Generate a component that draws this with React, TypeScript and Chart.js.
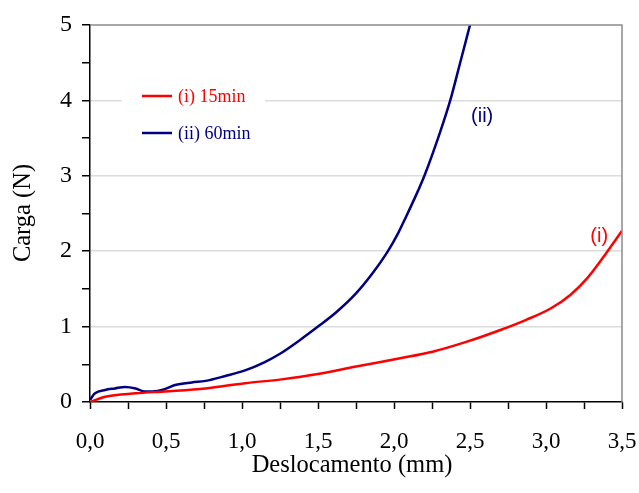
import React, { useEffect, useRef } from "react";
import { Chart, registerables } from "chart.js";

Chart.register(...registerables);

// Deslocamento (mm) and Carga (N) for each specimen
const dispI = [0, 0.1, 0.3, 0.49, 0.76, 1.02, 1.26, 1.5, 1.75, 2.04, 2.26, 2.48, 2.7, 2.87, 3.03, 3.16, 3.27, 3.38, 3.44, 3.5];
const loadI = [0, 0.07, 0.115, 0.14, 0.18, 0.25, 0.3, 0.37, 0.47, 0.58, 0.67, 0.8, 0.955, 1.09, 1.24, 1.42, 1.64, 1.93, 2.1, 2.27];

const dispII = [0, 0.033, 0.1, 0.164, 0.23, 0.3, 0.36, 0.41, 0.49, 0.56, 0.67, 0.76, 0.89, 1.02, 1.15, 1.25, 1.38, 1.5, 1.62, 1.75, 1.86, 1.96, 2.03, 2.08, 2.16, 2.2, 2.3, 2.37, 2.434, 2.5];
const loadII = [0.03, 0.115, 0.16, 0.18, 0.2, 0.18, 0.14, 0.14, 0.17, 0.225, 0.26, 0.28, 0.345, 0.42, 0.53, 0.64, 0.82, 1.0, 1.19, 1.44, 1.71, 2.0, 2.25, 2.46, 2.81, 3.0, 3.56, 4.0, 4.49, 5.0];

const seriesLabels = ["(i) 15min", "(ii) 60min"];
const seriesTags = ["(i)", "(ii)"];
const seriesColors = ["#ff0000", "#000080"];

const xTitle = "Deslocamento (mm)";
const yTitle = "Carga (N)";

const SERIF = "'Liberation Serif', 'Times New Roman', serif";
const SANS = "'Liberation Sans', Arial, sans-serif";

const toPoints = (xs: number[], ys: number[]) => xs.map((x, i) => ({ x, y: ys[i] }));

// Axis titles, in-plot legend and curve tags
const decorations = {
  id: "decorations",
  beforeDatasetsDraw(chart: any) {
    const { ctx } = chart;
    ctx.save();
    // legend backdrop hides the gridline behind it
    ctx.fillStyle = "#ffffff";
    ctx.fillRect(122, 78, 143, 72);
    ctx.restore();
  },
  afterDatasetsDraw(chart: any) {
    const { ctx, chartArea } = chart;
    const xs = chart.scales.x;
    const ys = chart.scales.y;
    ctx.save();

    // legend
    const rows = [96, 133];
    ctx.font = `18px ${SERIF}`;
    ctx.textBaseline = "middle";
    ctx.textAlign = "left";
    rows.forEach((y, i) => {
      ctx.strokeStyle = seriesColors[i];
      ctx.lineWidth = 2.5;
      ctx.beginPath();
      ctx.moveTo(142, y);
      ctx.lineTo(172, y);
      ctx.stroke();
      ctx.fillStyle = seriesColors[i];
      ctx.fillText(seriesLabels[i], 178, y + 1);
    });

    // curve tags
    ctx.font = `20px ${SANS}`;
    ctx.textAlign = "center";
    ctx.fillStyle = seriesColors[1];
    ctx.fillText(seriesTags[1], xs.getPixelForValue(2.58), ys.getPixelForValue(3.79));
    ctx.fillStyle = seriesColors[0];
    ctx.fillText(seriesTags[0], xs.getPixelForValue(3.35), ys.getPixelForValue(2.19));

    // gray frame on top and right
    ctx.strokeStyle = "#8c8c8c";
    ctx.lineWidth = 1.5;
    ctx.beginPath();
    ctx.moveTo(chartArea.left, chartArea.top);
    ctx.lineTo(chartArea.right, chartArea.top);
    ctx.lineTo(chartArea.right, chartArea.bottom);
    ctx.stroke();

    // axis titles
    ctx.fillStyle = "#000";
    ctx.font = `24.5px ${SERIF}`;
    ctx.textAlign = "center";
    ctx.textBaseline = "middle";
    ctx.fillText(xTitle, 352, 466);
    ctx.translate(24, 213);
    ctx.rotate(-Math.PI / 2);
    ctx.fillText(yTitle, 0, 0);
    ctx.restore();
  },
};

export default function App() {
  const canvasRef = useRef<HTMLCanvasElement | null>(null);

  useEffect(() => {
    const canvas = canvasRef.current;
    if (!canvas) return;
    const chart = new Chart(canvas, {
      type: "line",
      data: {
        datasets: [
          {
            label: seriesLabels[0],
            data: toPoints(dispI, loadI),
            borderColor: seriesColors[0],
            borderWidth: 2.5,
            pointRadius: 0,
            cubicInterpolationMode: "monotone",
            fill: false,
          },
          {
            label: seriesLabels[1],
            data: toPoints(dispII, loadII),
            borderColor: seriesColors[1],
            borderWidth: 2.5,
            pointRadius: 0,
            cubicInterpolationMode: "monotone",
            fill: false,
          },
        ],
      },
      options: {
        animation: false,
        responsive: true,
        maintainAspectRatio: false,
        layout: { padding: { left: 0, top: 25, right: 17, bottom: 0 } },
        plugins: {
          legend: { display: false },
          tooltip: { enabled: false },
        },
        scales: {
          x: {
            type: "linear",
            min: 0,
            max: 3.5,
            afterFit: (s: any) => {
              s.height = 91;
              s.paddingLeft = 0;
              s.paddingRight = 0;
            },
            border: { display: true, color: "#000", width: 1.5 },
            grid: {
              color: "rgba(0,0,0,0)",
              tickColor: "#000",
              tickLength: 7,
              tickWidth: 1.5,
              drawOnChartArea: false,
            },
            ticks: {
              stepSize: 0.25,
              autoSkip: false,
              maxRotation: 0,
              padding: 19,
              color: "#000",
              font: { family: SERIF, size: 23 },
              callback: (v: any) => {
                const n = Number(v);
                return Math.abs(n * 2 - Math.round(n * 2)) < 1e-9 ? n.toFixed(1).replace(".", ",") : "";
              },
            },
          },
          y: {
            type: "linear",
            min: 0,
            max: 5,
            afterFit: (s: any) => {
              s.width = 90;
              s.paddingTop = 0;
              s.paddingBottom = 0;
            },
            border: { display: true, color: "#000", width: 1.5 },
            grid: {
              color: (c: any) => {
                const v = c.tick ? c.tick.value : 0;
                return Number.isInteger(v) && v > 0 && v < 5 ? "#dcdcdc" : "rgba(0,0,0,0)";
              },
              lineWidth: 1.5,
              tickColor: "#000",
              tickLength: 8,
              tickWidth: 1.5,
            },
            ticks: {
              stepSize: 0.5,
              autoSkip: false,
              padding: 10,
              color: "#000",
              font: { family: SERIF, size: 24 },
              callback: (v: any) => (Number.isInteger(Number(v)) ? String(v) : ""),
            },
          },
        },
      },
      plugins: [decorations],
    });
    return () => chart.destroy();
  }, []);

  return (
    <div style={{ position: "absolute", left: 0, top: 0, width: 639, height: 493, background: "#fff" }}>
      <canvas ref={canvasRef} />
    </div>
  );
}
